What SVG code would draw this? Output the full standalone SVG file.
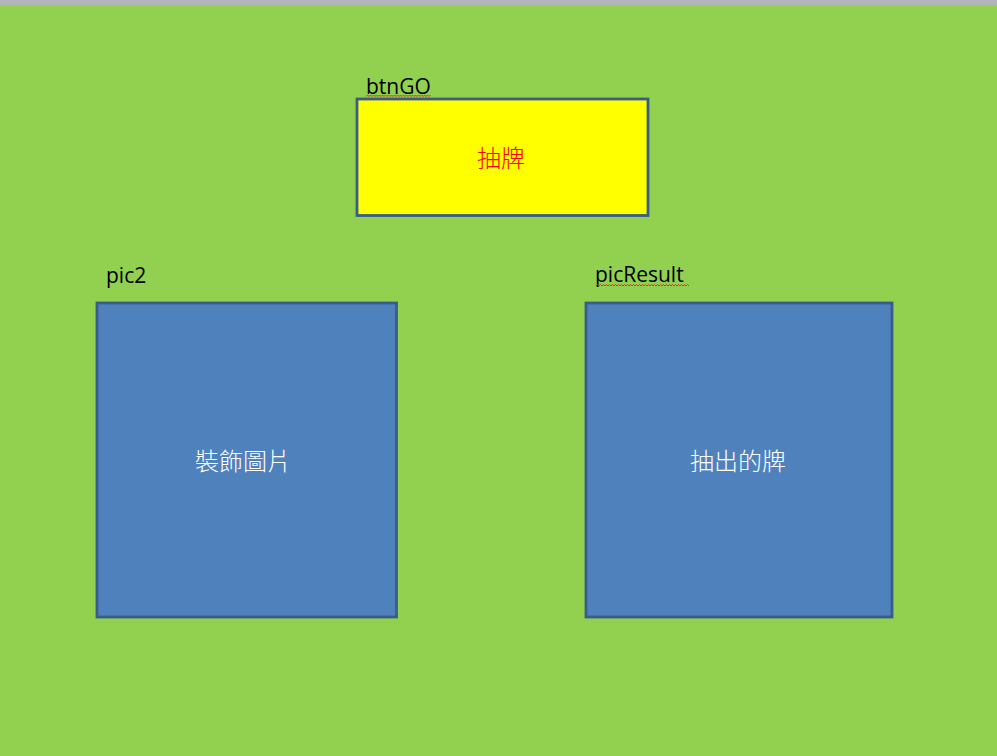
<svg xmlns="http://www.w3.org/2000/svg" width="997" height="756" viewBox="0 0 997 756">
<style>
.lbl{font-family:"Open Sans","Liberation Sans","Noto Sans CJK TC",sans-serif;font-size:21px;fill:#000}
.cjk{font-family:"Noto Sans CJK TC","Noto Sans CJK SC",sans-serif;font-size:24px;font-weight:300;text-anchor:middle;dominant-baseline:central}
.box{fill:#4F81BD;stroke:#385D8A;stroke-width:2.8}
.sq{fill:none;stroke:#E03020;stroke-width:1}
</style>
<rect x="0" y="0" width="997" height="756" fill="#92D050"/>
<rect x="0" y="0" width="997" height="5.5" fill="#B1B4B9"/>
<g id="btnGO">
<rect x="357" y="99" width="291" height="116.5" fill="#FFFF00" stroke="#385D8A" stroke-width="2.8"/>
<text class="lbl" x="366" y="94">btnGO</text>
<path class="sq" d="M366,96.5 l1.5,-1.5 l1.5,1.5 l1.5,-1.5 l1.5,1.5 l1.5,-1.5 l1.5,1.5 l1.5,-1.5 l1.5,1.5 l1.5,-1.5 l1.5,1.5 l1.5,-1.5 l1.5,1.5 l1.5,-1.5 l1.5,1.5 l1.5,-1.5 l1.5,1.5 l1.5,-1.5 l1.5,1.5 l1.5,-1.5 l1.5,1.5 l1.5,-1.5 l1.5,1.5 l1.5,-1.5 l1.5,1.5 l1.5,-1.5 l1.5,1.5 l1.5,-1.5 l1.5,1.5 l1.5,-1.5 l1.5,1.5 l1.5,-1.5 l1.5,1.5 l1.5,-1.5 l1.5,1.5 l1.5,-1.5 l1.5,1.5 l1.5,-1.5 l1.5,1.5 l1.5,-1.5 l1.5,1.5 l1.5,-1.5 l1.5,1.5 l1.5,-1.5"/>
<text class="cjk" x="501" y="156" fill="#FF0000">抽牌</text>
</g>
<g id="pic2">
<rect class="box" x="97" y="303" width="299.5" height="314"/>
<text class="lbl" x="106" y="283">pic2</text>
<text class="cjk" x="243" y="459" fill="#FFFFFF">裝飾圖片</text>
</g>
<g id="picResult">
<rect class="box" x="586" y="303" width="306" height="314"/>
<text class="lbl" x="595" y="282">picResult</text>
<path class="sq" d="M596,286 l1.5,-1.5 l1.5,1.5 l1.5,-1.5 l1.5,1.5 l1.5,-1.5 l1.5,1.5 l1.5,-1.5 l1.5,1.5 l1.5,-1.5 l1.5,1.5 l1.5,-1.5 l1.5,1.5 l1.5,-1.5 l1.5,1.5 l1.5,-1.5 l1.5,1.5 l1.5,-1.5 l1.5,1.5 l1.5,-1.5 l1.5,1.5 l1.5,-1.5 l1.5,1.5 l1.5,-1.5 l1.5,1.5 l1.5,-1.5 l1.5,1.5 l1.5,-1.5 l1.5,1.5 l1.5,-1.5 l1.5,1.5 l1.5,-1.5 l1.5,1.5 l1.5,-1.5 l1.5,1.5 l1.5,-1.5 l1.5,1.5 l1.5,-1.5 l1.5,1.5 l1.5,-1.5 l1.5,1.5 l1.5,-1.5 l1.5,1.5 l1.5,-1.5 l1.5,1.5 l1.5,-1.5 l1.5,1.5 l1.5,-1.5 l1.5,1.5 l1.5,-1.5 l1.5,1.5 l1.5,-1.5 l1.5,1.5 l1.5,-1.5 l1.5,1.5 l1.5,-1.5 l1.5,1.5 l1.5,-1.5 l1.5,1.5 l1.5,-1.5 l1.5,1.5 l1.5,-1.5 l1.5,1.5"/>
<text class="cjk" x="738" y="459" fill="#FFFFFF">抽出的牌</text>
</g>
<g id="connectors"/>
</svg>
